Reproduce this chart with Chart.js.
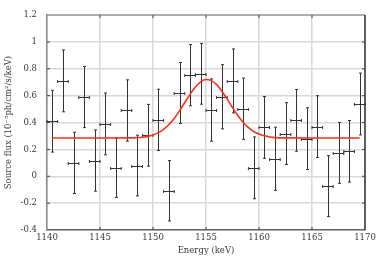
<!DOCTYPE html>
<html>
<head>
<meta charset="utf-8">
<script src="https://cdn.jsdelivr.net/npm/chart.js@4.4.1/dist/chart.umd.min.js"></script>
<style>
  html, body { margin: 0; padding: 0; background: #fff; }
  #wrap { width: 382px; height: 264px; }
</style>
</head>
<body>
<div id="wrap"><canvas id="chart" width="382" height="264"></canvas></div>
<script>
// binned spectrum (1 keV bins)
const binCenters = [1140.5, 1141.5, 1142.5, 1143.5, 1144.5, 1145.5, 1146.5, 1147.5, 1148.5, 1149.5,
                    1150.5, 1151.5, 1152.5, 1153.5, 1154.5, 1155.5, 1156.5, 1157.5, 1158.5, 1159.5,
                    1160.5, 1161.5, 1162.5, 1163.5, 1164.5, 1165.5, 1166.5, 1167.5, 1168.5, 1169.5];
const fluxValues = [0.41, 0.71, 0.10, 0.59, 0.117, 0.39, 0.063, 0.49, 0.08, 0.305,
                    0.42, -0.108, 0.62, 0.753, 0.763, 0.493, 0.592, 0.71, 0.503, 0.063,
                    0.364, 0.13, 0.318, 0.416, 0.28, 0.37, -0.073, 0.174, 0.186, 0.538];
const fluxErrors = [0.23, 0.23, 0.228, 0.228, 0.228, 0.23, 0.22, 0.228, 0.226, 0.23,
                    0.228, 0.225, 0.227, 0.228, 0.226, 0.232, 0.239, 0.238, 0.228, 0.23,
                    0.23, 0.235, 0.23, 0.23, 0.23, 0.23, 0.227, 0.227, 0.229, 0.23];
const binHalfWidth = 0.5;

// fitted model
const modelX = [1140.5, 1145, 1148, 1148.5, 1149, 1149.5, 1150, 1150.5, 1151, 1151.5, 1152, 1152.5,
                1153, 1153.5, 1154, 1154.5, 1155, 1155.5, 1156, 1156.5, 1157, 1157.5, 1158,
                1158.5, 1159, 1159.5, 1160, 1160.5, 1161, 1161.5, 1162, 1165, 1169.5];
const modelY = [0.285, 0.285, 0.286, 0.288, 0.291, 0.297, 0.308, 0.325, 0.35, 0.385, 0.431, 0.487,
                0.549, 0.61, 0.664, 0.703, 0.72, 0.712, 0.682, 0.633, 0.574, 0.511, 0.452,
                0.402, 0.362, 0.333, 0.314, 0.301, 0.293, 0.289, 0.286, 0.285, 0.285];

const xTicks = [1140, 1145, 1150, 1155, 1160, 1165, 1170];
const yTicks = [-0.4, -0.2, 0, 0.2, 0.4, 0.6, 0.8, 1, 1.2];

const serif = 'DejaVu Serif';
const textGray = '#3a3a3a';

const errorBarPlugin = {
  id: 'errorBars',
  beforeDatasetsDraw: (chart) => {
    const ctx = chart.ctx;
    const xs = chart.scales.x, ys = chart.scales.y;
    const cap = 1.5;
    ctx.save();
    ctx.strokeStyle = '#333';
    ctx.lineWidth = 1;
    for (let i = 0; i < binCenters.length; i++) {
      const px = Math.round(xs.getPixelForValue(binCenters[i])) + 0.5;
      const py = Math.round(ys.getPixelForValue(fluxValues[i])) + 0.5;
      const top = ys.getPixelForValue(fluxValues[i] + fluxErrors[i]);
      const bot = ys.getPixelForValue(fluxValues[i] - fluxErrors[i]);
      const l = xs.getPixelForValue(binCenters[i] - binHalfWidth);
      const r = xs.getPixelForValue(binCenters[i] + binHalfWidth);
      ctx.beginPath();
      ctx.moveTo(px, top); ctx.lineTo(px, bot);
      ctx.moveTo(px - cap, top); ctx.lineTo(px + cap, top);
      ctx.moveTo(px - cap, bot); ctx.lineTo(px + cap, bot);
      ctx.moveTo(l, py); ctx.lineTo(r, py);
      ctx.moveTo(l, py - cap); ctx.lineTo(l, py + cap);
      ctx.moveTo(r, py - cap); ctx.lineTo(r, py + cap);
      ctx.stroke();
    }
    ctx.restore();
  },
  afterDraw: (chart) => {
    // frame and inward tick marks
    const ctx = chart.ctx;
    const a = chart.chartArea;
    const xs = chart.scales.x, ys = chart.scales.y;
    ctx.save();
    ctx.lineWidth = 1.5;
    ctx.strokeStyle = '#9a9a9a';
    ctx.beginPath();
    ctx.moveTo(a.left, a.top); ctx.lineTo(a.right, a.top);
    ctx.stroke();
    ctx.strokeStyle = '#333';
    ctx.beginPath();
    ctx.moveTo(a.right, a.top); ctx.lineTo(a.right, a.bottom);
    ctx.stroke();
    ctx.lineWidth = 1;
    ctx.strokeStyle = '#444';
    ctx.beginPath();
    for (const t of xTicks.slice(1, -1)) {
      const px = xs.getPixelForValue(t);
      ctx.moveTo(px, a.top); ctx.lineTo(px, a.top + 3);
      ctx.moveTo(px, a.bottom); ctx.lineTo(px, a.bottom - 3);
    }
    for (const t of yTicks.slice(1, -1)) {
      const py = ys.getPixelForValue(t);
      ctx.moveTo(a.left, py); ctx.lineTo(a.left + 3, py);
      ctx.moveTo(a.right, py); ctx.lineTo(a.right - 3, py);
    }
    ctx.stroke();
    ctx.restore();
  }
};

const ctx = document.getElementById('chart');
new Chart(ctx, {
  type: 'scatter',
  data: {
    datasets: [
      {
        label: 'data',
        data: binCenters.map((x, i) => ({ x: x, y: fluxValues[i] })),
        pointRadius: 0,
        showLine: false
      },
      {
        label: 'model',
        type: 'line',
        data: modelX.map((x, i) => ({ x: x, y: modelY[i] })),
        borderColor: '#f2321e',
        borderWidth: 1.6,
        pointRadius: 0,
        cubicInterpolationMode: 'monotone',
        fill: false
      }
    ]
  },
  options: {
    responsive: false,
    animation: false,
    events: [],
    layout: { padding: { top: 14, right: 17, bottom: 8, left: 4 } },
    plugins: {
      legend: { display: false },
      tooltip: { enabled: false }
    },
    scales: {
      x: {
        type: 'linear',
        min: 1140,
        max: 1170,
        afterFit: (scale) => { scale.height = 26; },
        afterBuildTicks: (scale) => { scale.ticks = xTicks.map(v => ({ value: v })); },
        ticks: {
          padding: 3,
          color: textGray,
          font: { family: serif, size: 8.5 },
          callback: (v) => String(v)
        },
        grid: { color: '#d8d8d8', lineWidth: 1.5, drawTicks: false },
        border: { color: '#666', width: 1.5 },
        title: {
          display: true,
          text: 'Energy (keV)',
          color: textGray,
          font: { family: serif, size: 8.5 },
          padding: { top: 3, bottom: 0 }
        }
      },
      y: {
        min: -0.4,
        max: 1.2,
        afterFit: (scale) => { scale.width = 43; },
        afterBuildTicks: (scale) => { scale.ticks = yTicks.map(v => ({ value: v })); },
        ticks: {
          padding: 10,
          color: textGray,
          font: { family: serif, size: 8.5 },
          callback: (v) => String(Math.round(v * 10) / 10)
        },
        grid: { color: '#d8d8d8', lineWidth: 1.5, drawTicks: false },
        border: { color: '#8a8a8a', width: 1.5 },
        title: {
          display: true,
          text: 'Source flux (10⁻⁵ph/cm²/s/keV)',
          color: textGray,
          font: { family: serif, size: 8.5 },
          padding: { top: 0, bottom: 0 }
        }
      }
    }
  },
  plugins: [errorBarPlugin]
});
</script>
</body>
</html>
